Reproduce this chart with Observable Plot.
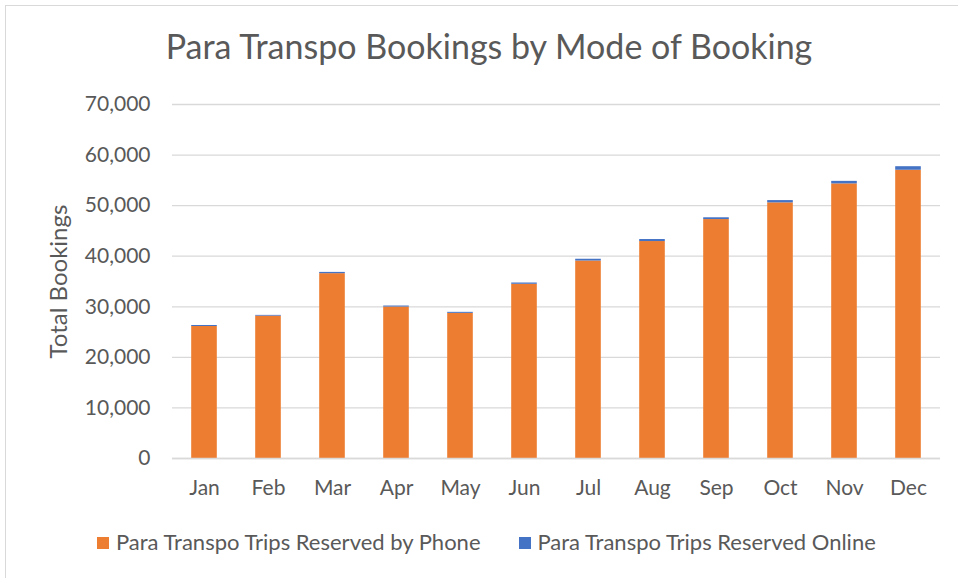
<!DOCTYPE html>
<html><head><meta charset="utf-8">
<script src="https://cdn.jsdelivr.net/npm/d3@7"></script>
<script src="https://cdn.jsdelivr.net/npm/@observablehq/plot@0.6"></script>
<style>
body{margin:0;background:#fff;font-family:Lato,"Open Sans",sans-serif;}
#wrap{position:relative;width:958px;height:578px;overflow:hidden;}
#frame{position:absolute;left:5px;top:5px;width:1000px;height:1000px;border:1px solid #d9d9d9;}
#title{position:absolute;left:0;width:978px;top:25px;text-align:center;font-size:34px;color:#595959;}
#chart{position:absolute;left:0;top:80px;}
#legend{position:absolute;top:528px;left:97px;font-size:22px;color:#595959;white-space:nowrap;}
.sw{display:inline-block;width:12px;height:12px;margin-right:7px;vertical-align:1px;}
</style></head>
<body><div id="wrap"><div id="frame"></div>
<div id="title">Para Transpo Bookings by Mode of Booking</div>
<div id="chart"></div>
<div id="legend"><span class="sw" style="background:#ED7D31"></span>Para Transpo Trips Reserved by Phone<span id="gap" style="display:inline-block;width:38px"></span><span class="sw" style="background:#4472C4"></span>Para Transpo Trips Reserved Online</div>
</div>
<script>
const months = ["Jan","Feb","Mar","Apr","May","Jun","Jul","Aug","Sep","Oct","Nov","Dec"];
const phone = [26100,28150,36550,29950,28700,34450,39050,42900,47250,50550,54300,57000];
const online = [200,150,250,200,200,250,350,400,350,450,500,700];
const seriesNames = ["Para Transpo Trips Reserved by Phone","Para Transpo Trips Reserved Online"];
const yTicks = [0,10000,20000,30000,40000,50000,60000,70000];

const rows = [];
months.forEach((m,i)=>{
  rows.push({month:m, series:seriesNames[0], value:phone[i]});
  rows.push({month:m, series:seriesNames[1], value:online[i]});
});

const chart = Plot.plot({
  width:958, height:430,
  marginTop:24, marginBottom:52, marginLeft:172, marginRight:18,
  style:{fontFamily:"Lato, 'Open Sans', sans-serif", fontSize:"21px", color:"#595959", background:"transparent"},
  x:{domain:months, paddingInner:0.6, paddingOuter:0.3, round:false, label:null, tickSize:0, tickPadding:22},
  y:{domain:[0,70000], ticks:yTicks, tickFormat:d3.format(","), label:null, tickSize:0, tickPadding:22},
  color:{domain:seriesNames, range:["#ED7D31","#4472C4"]},
  marks:[
    Plot.gridY(yTicks,{stroke:"#d9d9d9", strokeOpacity:1, strokeWidth:1.3}),
    Plot.barY(rows, Plot.stackY({x:"month", y:"value", fill:"series", order:seriesNames})),
    Plot.ruleY([0],{stroke:"#d9d9d9", strokeWidth:1.3}),
    Plot.text(["Total Bookings"],{frameAnchor:"left", textAnchor:"middle", dx:-113, rotate:-90, fontSize:24, fill:"#595959"})
  ]
});
document.getElementById("chart").appendChild(chart);
</script></body></html>
